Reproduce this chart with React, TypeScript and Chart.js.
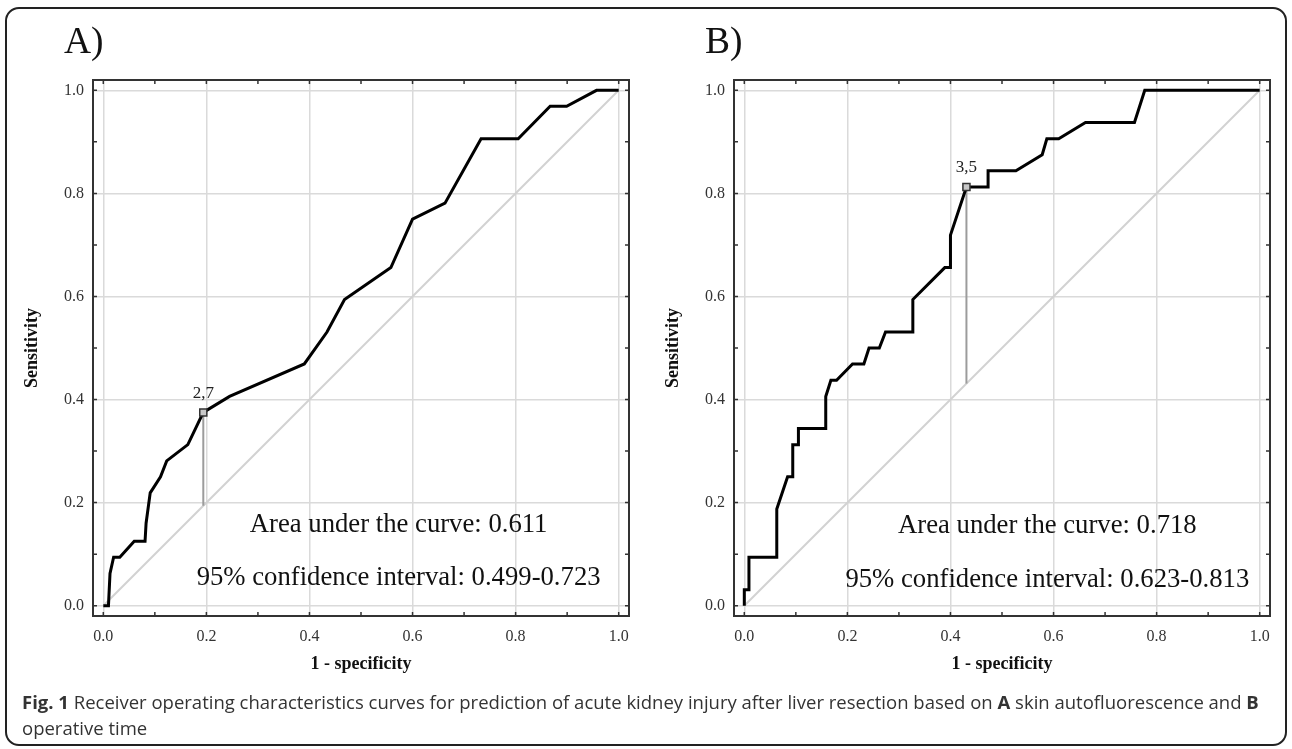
import React, { useEffect, useRef } from "react";
import { Chart, registerables } from "chart.js";

Chart.register(...registerables);

// ---------- data ----------
const AXIS_TICKS = [0, 0.2, 0.4, 0.6, 0.8, 1.0];
const MINOR_TICKS = [0, 0.1, 0.2, 0.3, 0.4, 0.5, 0.6, 0.7, 0.8, 0.9, 1.0];

const A_FPR = [0, 0.004, 0.01, 0.013, 0.02, 0.032, 0.06, 0.081, 0.083, 0.091, 0.111, 0.123, 0.164, 0.194, 0.245, 0.39, 0.434, 0.468, 0.558, 0.6, 0.663, 0.733, 0.805, 0.867, 0.899, 0.957, 1.0];
const A_TPR = [0, 0, 0.0, 0.0625, 0.094, 0.094, 0.125, 0.125, 0.16, 0.219, 0.25, 0.281, 0.3125, 0.375, 0.406, 0.469, 0.531, 0.594, 0.656, 0.75, 0.781, 0.906, 0.906, 0.969, 0.969, 1.0, 1.0];

const B_FPR = [0, 0, 0.009, 0.009, 0.063, 0.063, 0.084, 0.094, 0.094, 0.105, 0.105, 0.158, 0.158, 0.168, 0.179, 0.21, 0.232, 0.242, 0.262, 0.274, 0.327, 0.327, 0.389, 0.4, 0.4, 0.431, 0.473, 0.473, 0.527, 0.578, 0.587, 0.61, 0.662, 0.757, 0.777, 1.0];
const B_TPR = [0, 0.031, 0.031, 0.094, 0.094, 0.1875, 0.25, 0.25, 0.3125, 0.3125, 0.344, 0.344, 0.406, 0.4375, 0.4375, 0.469, 0.469, 0.5, 0.5, 0.531, 0.531, 0.594, 0.656, 0.656, 0.719, 0.8125, 0.8125, 0.844, 0.844, 0.875, 0.906, 0.906, 0.9375, 0.9375, 1.0, 1.0];

const A_CUTOFF = { x: 0.194, y: 0.375, label: "2,7" };
const B_CUTOFF = { x: 0.431, y: 0.8125, label: "3,5" };

const A_TEXTS = ["Area under the curve: 0.611", "95% confidence interval: 0.499-0.723"];
const B_TEXTS = ["Area under the curve: 0.718", "95% confidence interval: 0.623-0.813"];

const DIAGONAL_X = [0, 1];

const SERIF = '"Liberation Serif", "Times New Roman", serif';

type PanelProps = {
  fpr: number[];
  tpr: number[];
  cutoff: { x: number; y: number; label: string };
  texts: string[];
  textPos: { x: number; y1: number; y2: number };
  letter: string;
  left: number;
};

function RocPanel(props: PanelProps) {
  const ref = useRef<HTMLCanvasElement | null>(null);

  useEffect(() => {
    const canvas = ref.current;
    if (!canvas) return;
    const { fpr, tpr, cutoff, texts, textPos, letter } = props;

    const framePlugin = {
      id: "frameAndText",
      afterDraw(chart: any) {
        const ctx = chart.ctx as CanvasRenderingContext2D;
        const { left, right, top, bottom } = chart.chartArea;
        const xs = chart.scales.x;
        const ys = chart.scales.y;
        ctx.save();
        // frame
        ctx.strokeStyle = "#333";
        ctx.lineWidth = 2;
        ctx.strokeRect(left, top, right - left, bottom - top);
        // minor ticks inward
        ctx.lineWidth = 1.5;
        ctx.beginPath();
        MINOR_TICKS.forEach((v) => {
          const px = xs.getPixelForValue(v);
          const py = ys.getPixelForValue(v);
          ctx.moveTo(px, top);
          ctx.lineTo(px, top + 4);
          ctx.moveTo(px, bottom);
          ctx.lineTo(px, bottom - 4);
          ctx.moveTo(left, py);
          ctx.lineTo(left + 4, py);
          ctx.moveTo(right, py);
          ctx.lineTo(right - 4, py);
        });
        ctx.stroke();
        // cutoff label
        ctx.fillStyle = "#222";
        ctx.font = `17px ${SERIF}`;
        ctx.textAlign = "center";
        ctx.textBaseline = "middle";
        ctx.fillText(cutoff.label, xs.getPixelForValue(cutoff.x), ys.getPixelForValue(cutoff.y) - 19);
        // AUC texts
        ctx.font = `26.7px ${SERIF}`;
        ctx.fillStyle = "#111";
        ctx.fillText(texts[0], xs.getPixelForValue(textPos.x), ys.getPixelForValue(textPos.y1));
        ctx.fillText(texts[1], xs.getPixelForValue(textPos.x), ys.getPixelForValue(textPos.y2));
        // panel letter
        ctx.textAlign = "left";
        ctx.textBaseline = "alphabetic";
        ctx.font = `37.5px ${SERIF}`;
        ctx.fillStyle = "#111";
        ctx.fillText(letter, left - 29, 53);
        ctx.restore();
      },
    };

    const setTicks = (s: any) => {
      s.ticks = AXIS_TICKS.map((v) => ({ value: v }));
    };

    const chart = new Chart(canvas, {
      type: "scatter",
      data: {
        datasets: [
          {
            label: "cutoff",
            data: [{ x: cutoff.x, y: cutoff.y }],
            pointStyle: "rect",
            pointRadius: 5,
            pointBorderColor: "#333",
            pointBackgroundColor: "#c8c8c8",
            pointBorderWidth: 1.5,
            showLine: false,
            order: 0,
          },
          {
            label: "ROC",
            data: fpr.map((x, i) => ({ x, y: tpr[i] })),
            showLine: true,
            borderColor: "#000",
            borderWidth: 3,
            pointRadius: 0,
            order: 1,
          },
          {
            label: "cutline",
            data: [
              { x: cutoff.x, y: cutoff.x },
              { x: cutoff.x, y: cutoff.y },
            ],
            showLine: true,
            borderColor: "#9c9c9c",
            borderWidth: 2,
            pointRadius: 0,
            order: 2,
          },
          {
            label: "diag",
            data: DIAGONAL_X.map((v) => ({ x: v, y: v })),
            showLine: true,
            borderColor: "#d2d2d2",
            borderWidth: 2,
            pointRadius: 0,
            order: 3,
          },
        ],
      },
      options: {
        animation: false,
        responsive: false,
        maintainAspectRatio: false,
        layout: { padding: { left: 0, right: 17, top: 80, bottom: 14 } },
        plugins: { legend: { display: false }, tooltip: { enabled: false } },
        scales: {
          x: {
            type: "linear",
            min: -0.02,
            max: 1.02,
            afterBuildTicks: setTicks,
            afterFit: (s: any) => {
              s.height = 60;
            },
            grid: { color: "#dadada", lineWidth: 1.5, drawTicks: false },
            border: { display: false },
            ticks: {
              padding: 11,
              color: "#333",
              font: { family: SERIF, size: 16 },
              callback: (v: any) => Number(v).toFixed(1),
            },
            title: {
              display: true,
              text: "1 - specificity",
              color: "#111",
              font: { family: SERIF, size: 18, weight: "bold" },
              padding: { top: 0, bottom: 1 },
            },
          },
          y: {
            type: "linear",
            min: -0.02,
            max: 1.02,
            afterBuildTicks: setTicks,
            afterFit: (s: any) => {
              s.width = 93;
            },
            grid: { color: "#dadada", lineWidth: 1.5, drawTicks: false },
            border: { display: false },
            ticks: {
              padding: 9,
              color: "#333",
              font: { family: SERIF, size: 16 },
              callback: (v: any) => Number(v).toFixed(1),
            },
            title: {
              display: true,
              text: "Sensitivity",
              color: "#111",
              font: { family: SERIF, size: 18, weight: "bold" },
              padding: { top: 22, bottom: 0 },
            },
          },
        },
      },
      plugins: [framePlugin],
    } as any);

    return () => chart.destroy();
  }, []);

  return (
    <canvas
      ref={ref}
      width={646}
      height={690}
      style={{ position: "absolute", left: props.left, top: 0, width: 646, height: 690 }}
    />
  );
}

export default function App() {
  return (
    <div
      style={{
        position: "absolute",
        left: 0,
        top: 0,
        width: 1292,
        height: 749,
        background: "#fff",
        overflow: "hidden",
      }}
    >
      <div
        style={{
          position: "absolute",
          left: 5,
          top: 7,
          width: 1278,
          height: 735,
          border: "2px solid #222",
          borderRadius: 14,
        }}
      />
      <RocPanel
        fpr={A_FPR}
        tpr={A_TPR}
        cutoff={A_CUTOFF}
        texts={A_TEXTS}
        textPos={{ x: 0.573, y1: 0.157, y2: 0.054 }}
        letter="A)"
        left={0}
      />
      <RocPanel
        fpr={B_FPR}
        tpr={B_TPR}
        cutoff={B_CUTOFF}
        texts={B_TEXTS}
        textPos={{ x: 0.588, y1: 0.154, y2: 0.05 }}
        letter="B)"
        left={641}
      />
      <div
        style={{
          position: "absolute",
          left: 22,
          top: 689,
          fontFamily: '"Open Sans", sans-serif',
          fontSize: 18.5,
          lineHeight: "26px",
          color: "#333",
          whiteSpace: "nowrap",
        }}
      >
        <div>
          <b>Fig. 1</b> Receiver operating characteristics curves for prediction of acute kidney injury after liver
          resection based on <b>A</b> skin autofluorescence and <b>B</b>
        </div>
        <div>operative time</div>
      </div>
    </div>
  );
}
